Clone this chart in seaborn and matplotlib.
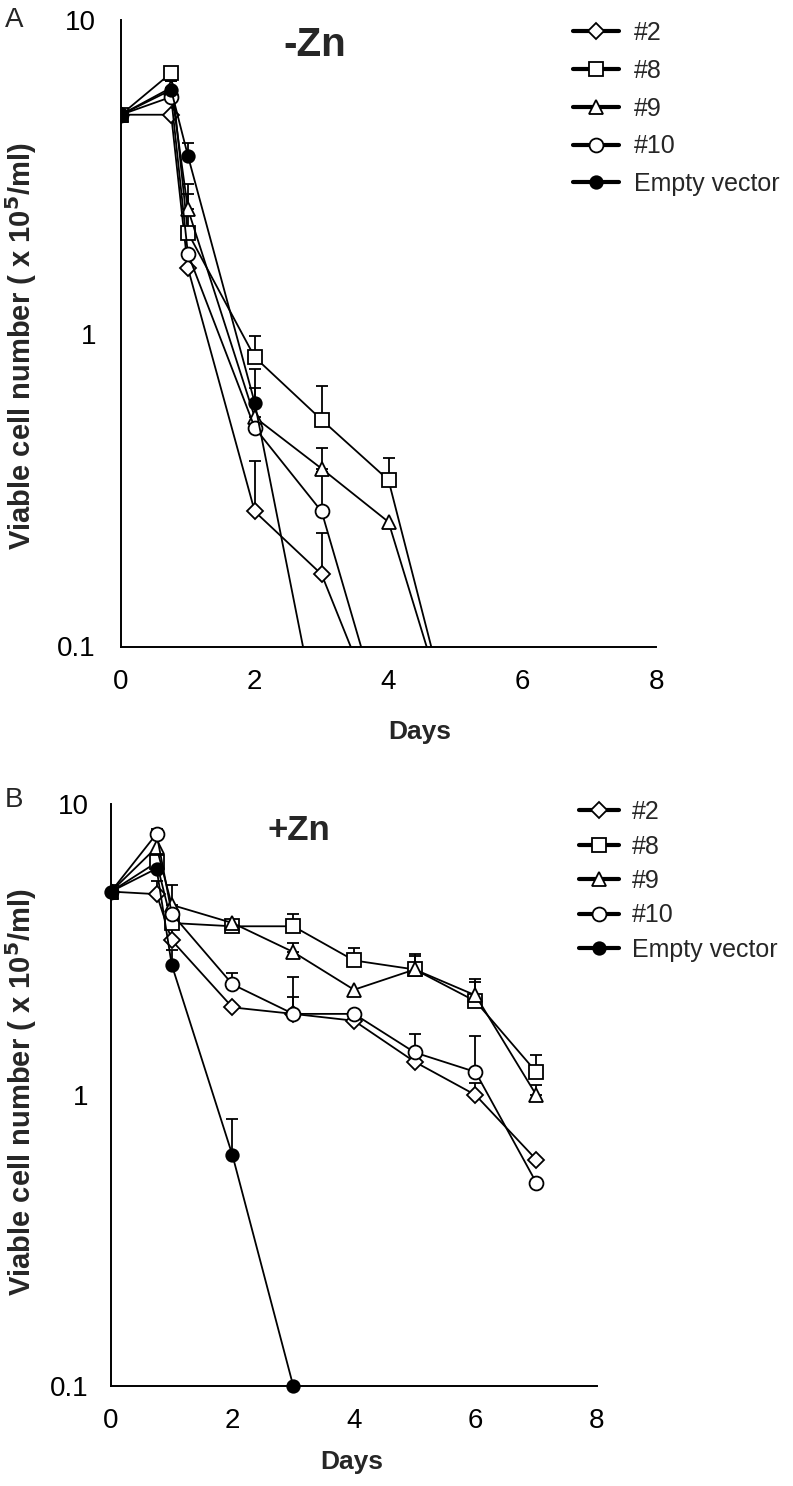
import numpy as np
import pandas as pd
import seaborn as sns
import matplotlib.pyplot as plt
from matplotlib.lines import Line2D
from matplotlib.ticker import NullLocator

nan = np.nan

LABELS = ["#2", "#8", "#9", "#10", "Empty vector"]
MARKERS = ["D", "s", "^", "o", "o"]
FACES = ["white", "white", "white", "white", "black"]
MSIZE = [8, 9.5, 10.5, 10, 9]

# -Zn (0.05 = below axis, line runs off the bottom)
days_a = [0, 0.75, 1, 2, 3, 4, 5]
a_vals = {
    "#2": [5.0, 5.0, 1.62, 0.27, 0.17, 0.05, nan],
    "#8": [5.0, 6.8, 2.1, 0.84, 0.53, 0.34, 0.05],
    "#9": [5.0, 6.1, 2.5, 0.54, 0.37, 0.25, 0.05],
    "#10": [5.0, 5.7, 1.8, 0.50, 0.27, 0.05, nan],
    "Empty vector": [5.0, 6.0, 3.7, 0.60, 0.05, nan, nan],
}
a_err = {
    "#2": [nan, nan, nan, 0.39, 0.23, nan, nan],
    "#8": [nan, nan, 3.0, 0.98, 0.68, 0.40, nan],
    "#9": [nan, 6.4, 2.8, 0.67, 0.43, nan, nan],
    "#10": [nan, nan, nan, nan, 0.36, nan, nan],
    "Empty vector": [nan, 6.4, 4.05, 0.77, nan, nan, nan],
}

# +Zn
days_b = [0, 0.75, 1, 2, 3, 4, 5, 6, 7]
b_vals = {
    "#2": [5.0, 4.9, 3.4, 2.0, 1.9, 1.8, 1.3, 1.0, 0.6],
    "#8": [5.0, 6.3, 3.9, 3.8, 3.8, 2.9, 2.7, 2.1, 1.2],
    "#9": [5.0, 7.1, 4.5, 3.9, 3.1, 2.3, 2.7, 2.2, 1.0],
    "#10": [5.0, 7.9, 4.2, 2.4, 1.9, 1.9, 1.4, 1.2, 0.5],
    "Empty vector": [5.0, 6.0, 2.8, 0.62, 0.1, nan, nan, nan, nan],
}
b_err = {
    "#2": [nan, 5.45, 3.78, nan, 2.17, nan, nan, 1.10, nan],
    "#8": [nan, 6.6, nan, nan, 4.2, 3.19, 3.0, 2.5, 1.37],
    "#9": [nan, nan, 5.27, nan, 3.32, nan, 3.04, 2.45, 1.08],
    "#10": [nan, 8.2, nan, 2.62, 2.54, nan, 1.62, 1.59, nan],
    "Empty vector": [nan, nan, 3.15, 0.825, nan, nan, nan, nan, nan],
}

sns.set_style("white")
plt.rcParams["font.family"] = ["Liberation Sans", "DejaVu Sans"]


def panel(ax, days, vals, errs, title, title_xy, title_size, clip_last, ypad):
    for lab, m, fc, ms in zip(LABELS, MARKERS, FACES, MSIZE):
        df = pd.DataFrame({"day": days, "v": vals[lab], "e": errs[lab]}).dropna(subset=["v"])
        eb = df.dropna(subset=["e"])
        ax.errorbar(eb["day"], eb["v"], yerr=[np.zeros(len(eb)), eb["e"] - eb["v"]],
                    fmt="none", ecolor="black", elinewidth=1.3, capsize=4.5, capthick=1.3, zorder=2)
        sns.lineplot(data=df, x="day", y="v", ax=ax, color="black", lw=1.3,
                     marker=m, markersize=ms, markerfacecolor=fc, markeredgecolor="black",
                     markeredgewidth=1.3, zorder=3, clip_on=not (clip_last and lab == "Empty vector"))
    ax.set_yscale("log")
    ax.set_ylim(0.1, 10)
    ax.set_xlim(0, 8)
    ax.set_yticks([0.1, 1, 10], ["0.1", "1", "10"])
    ax.yaxis.set_minor_locator(NullLocator())
    ax.set_xticks([0, 2, 4, 6, 8])
    for s in ["top", "right"]:
        ax.spines[s].set_visible(False)
    for s in ["left", "bottom"]:
        ax.spines[s].set_linewidth(1.4)
        ax.spines[s].set_color("black")
    ax.tick_params(axis="both", direction="in", length=7, width=1.3, labelsize=20, colors="black")
    ax.tick_params(axis="y", pad=ypad)
    ax.tick_params(axis="x", pad=16)
    ax.set_xlabel("Days", fontsize=19, fontweight="bold")
    ax.set_ylabel("Viable cell number ( x 10$^{\\mathbf{5}}$/ml)", fontsize=21, fontweight="bold")
    ax.text(title_xy[0], title_xy[1], title, transform=ax.transAxes, fontsize=title_size,
            fontweight="bold", ha="center", va="center")


fig = plt.figure(figsize=(7.93, 14.86), dpi=100)
axA = fig.add_axes([121 / 793, 1 - 646.5 / 1486, 535 / 793, 626 / 1486])
axB = fig.add_axes([111 / 793, 1 - 1386 / 1486, 486 / 793, 582 / 1486])

panel(axA, days_a, a_vals, a_err, "-Zn", ((315 - 121) / 535, (646.5 - 45) / 626), 29, False, 18)
panel(axB, days_b, b_vals, b_err, "+Zn", ((299 - 111) / 486, (1386 - 830) / 582), 25, True, 16)

axA.xaxis.set_label_coords(0.559, -0.118)
axB.xaxis.set_label_coords(0.496, -0.11)
axA.yaxis.set_label_coords(-0.1533, 0.48)
axB.yaxis.set_label_coords(-0.148, 0.505)

handles = [Line2D([], [], color="black", lw=3, marker=m, markersize=ms, markerfacecolor=fc,
                  markeredgecolor="black", markeredgewidth=1.3)
           for m, fc, ms in zip(MARKERS, FACES, MSIZE)]
for ax, x0, top, sp, hl, tp in [(axA, 573, 21, 0.55, 1.85, 0.6), (axB, 579, 800, 0.42, 1.6, 0.5)]:
    ax.legend(handles, LABELS, loc="upper left", bbox_to_anchor=(x0 / 793, 1 - top / 1486),
              bbox_transform=fig.transFigure, frameon=False, fontsize=18, handlelength=hl,
              labelspacing=sp, handletextpad=tp, borderpad=0, borderaxespad=0)

fig.text(5 / 793, 1 - 20 / 1486, "A", fontsize=20, va="center")
fig.text(5 / 793, 1 - 800 / 1486, "B", fontsize=20, va="center")

plt.savefig("out.png", dpi=100)
